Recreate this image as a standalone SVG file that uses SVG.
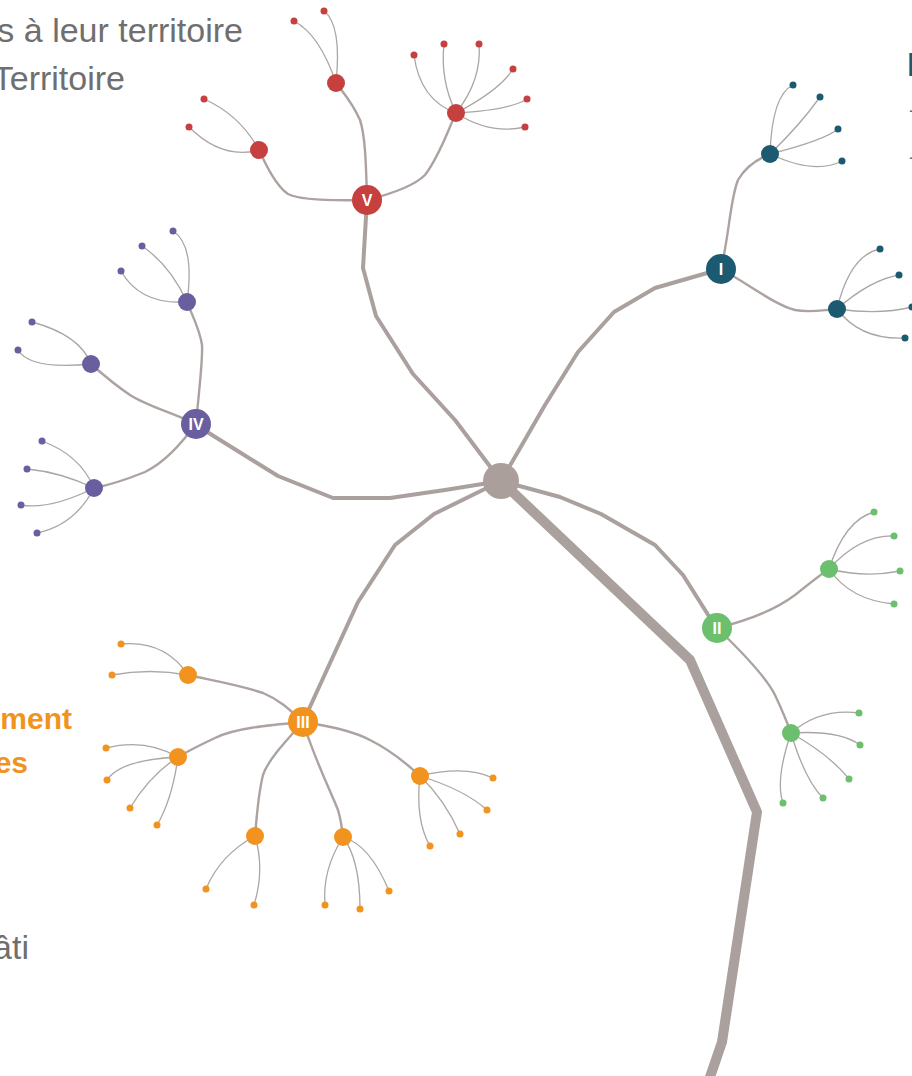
<svg xmlns="http://www.w3.org/2000/svg" width="912" height="1076" viewBox="0 0 912 1076">
<style>
.bg{fill:#ffffff}
.t{font-family:"Liberation Sans",Arial,sans-serif}
.gray{fill:#6f6f6f;font-size:34px}
.org{fill:#f0941e;font-size:30px;font-weight:bold}
.lbl{fill:#ffffff;font-size:16px;font-weight:bold;text-anchor:middle}
.l1{fill:none;stroke:#aaa09d;stroke-width:4;stroke-linejoin:round;stroke-linecap:round}
.l0{fill:none;stroke:#aaa09d;stroke-width:10;stroke-linejoin:round}
.l2{fill:none;stroke:#aca3a0;stroke-width:2.4;stroke-linecap:round}
.l3{fill:none;stroke:#aca5a3;stroke-width:1.3;stroke-linecap:round}
.root{fill:#ab9f9c}
.red{fill:#c5403e}
.teal{fill:#1b5a70}
.pur{fill:#695f9f}
.grn{fill:#6bbf6d}
.ora{fill:#f1931e}
</style>
<rect class="bg" x="0" y="0" width="912" height="1076"/>

<g id="texts" class="t">
<text class="gray" x="243" y="42" text-anchor="end">s à leur territoire</text>
<text class="gray" x="125" y="90" text-anchor="end">Territoire</text>
<text class="org" x="72" y="729" text-anchor="end">ment</text>
<text class="org" x="28" y="773" text-anchor="end">es</text>
<text class="gray" x="29" y="959" text-anchor="end">âti</text>
<text x="907" y="76" style="fill:#1b5a70;font-size:34px;font-weight:bold">D</text>
<text x="909" y="117" style="fill:#6f6f6f;font-size:20px">-</text>
<text x="909" y="164" style="fill:#6f6f6f;font-size:20px">-</text>
</g>

<g id="connectors">
<path class="l0" d="M501,481 L690,660 L757,812 L722,1042 L709,1080"/>
<path class="l1" d="M501,481 L545,405 L578,352 L614,312 L655,288 L721,269"/>
<path class="l1" d="M501,481 L455,420 L413,374 L376,316 L363,268 L367,200"/>
<path class="l1" d="M501,481 L445,490 L390,498 L333,498 L278,476 L196,425"/>
<path class="l1" d="M501,481 L434,514 L395,545 L358,602 L303,722"/>
<path class="l1" d="M501,481 L560,497 L601,514 L655,545 L683,575 L717,629"/>

<path class="l2" d="M367,200 C330,201 300,200 288,194 C276,186 266,165 259,150"/>
<path class="l2" d="M367,200 C366,160 365,135 360,120 C352,102 345,95 336,83"/>
<path class="l2" d="M367,200 C395,193 415,185 425,175 C440,155 448,130 456,113"/>
<path class="l2" d="M721,269 C730,230 730,200 738,180 C745,168 755,160 770,154"/>
<path class="l2" d="M721,269 C750,285 775,305 795,310 C810,313 822,310 837,309"/>
<path class="l2" d="M196,424 C199,390 203,360 202,345 C200,330 192,315 187,302"/>
<path class="l2" d="M196,424 C170,412 145,405 130,395 C115,385 100,372 91,364"/>
<path class="l2" d="M196,424 C180,445 165,462 145,472 C125,480 110,485 94,488"/>
<path class="l2" d="M717,628 C750,620 775,610 795,595 C810,583 820,575 829,569"/>
<path class="l2" d="M717,628 C740,650 765,675 775,695 C783,712 787,722 791,733"/>
<path class="l2" d="M303,722 C290,710 280,700 263,693 C240,685 210,680 188,675"/>
<path class="l2" d="M303,722 C270,725 235,728 215,738 C200,745 190,750 178,757"/>
<path class="l2" d="M303,722 C285,742 268,760 263,775 C258,795 257,815 255,836"/>
<path class="l2" d="M303,722 C315,760 330,790 338,810 C341,820 342,828 343,837"/>
<path class="l2" d="M303,722 C330,726 355,732 370,740 C390,750 405,762 420,776"/>

<path class="l3" d="M259,150 Q240,115 204,99"/>
<path class="l3" d="M259,150 Q222,160 189,127"/>
<path class="l3" d="M336,83 Q320,35 294,21"/>
<path class="l3" d="M336,83 Q342,25 324,11"/>
<path class="l3" d="M456,113 Q420,100 414,55"/>
<path class="l3" d="M456,113 Q440,80 444,44"/>
<path class="l3" d="M456,113 Q482,80 479,44"/>
<path class="l3" d="M456,113 Q500,90 513,69"/>
<path class="l3" d="M456,113 Q510,110 527,99"/>
<path class="l3" d="M456,113 Q490,135 525,127"/>

<path class="l3" d="M770,154 Q772,95 793,85"/>
<path class="l3" d="M770,154 Q800,125 820,97"/>
<path class="l3" d="M770,154 Q825,140 838,129"/>
<path class="l3" d="M770,154 Q815,175 842,161"/>
<path class="l3" d="M837,309 Q850,255 880,249"/>
<path class="l3" d="M837,309 Q870,280 899,275"/>
<path class="l3" d="M837,309 Q880,315 912,307"/>
<path class="l3" d="M837,309 Q860,340 905,338"/>

<path class="l3" d="M187,302 Q195,245 173,231"/>
<path class="l3" d="M187,302 Q170,265 142,246"/>
<path class="l3" d="M187,302 Q140,305 121,271"/>
<path class="l3" d="M91,364 Q80,335 32,322"/>
<path class="l3" d="M91,364 Q30,370 18,350"/>
<path class="l3" d="M94,488 Q80,455 42,441"/>
<path class="l3" d="M94,488 Q60,472 27,469"/>
<path class="l3" d="M94,488 Q50,510 21,505"/>
<path class="l3" d="M94,488 Q75,525 37,533"/>

<path class="l3" d="M829,569 Q845,520 874,512"/>
<path class="l3" d="M829,569 Q860,535 894,536"/>
<path class="l3" d="M829,569 Q865,578 900,571"/>
<path class="l3" d="M829,569 Q850,600 894,604"/>
<path class="l3" d="M791,733 Q820,708 859,713"/>
<path class="l3" d="M791,733 Q840,730 860,745"/>
<path class="l3" d="M791,733 Q830,755 849,779"/>
<path class="l3" d="M791,733 Q805,780 823,798"/>
<path class="l3" d="M791,733 Q775,780 783,803"/>

<path class="l3" d="M188,675 Q165,640 121,644"/>
<path class="l3" d="M188,675 Q150,668 112,675"/>
<path class="l3" d="M178,757 Q145,738 106,748"/>
<path class="l3" d="M178,757 Q120,760 107,780"/>
<path class="l3" d="M178,757 Q150,775 130,808"/>
<path class="l3" d="M178,757 Q172,800 157,825"/>
<path class="l3" d="M255,836 Q220,855 206,889"/>
<path class="l3" d="M255,836 Q265,870 254,905"/>
<path class="l3" d="M343,837 Q322,870 325,905"/>
<path class="l3" d="M343,837 Q360,860 360,909"/>
<path class="l3" d="M343,837 Q370,845 389,891"/>
<path class="l3" d="M420,776 Q465,765 493,778"/>
<path class="l3" d="M420,776 Q465,790 487,810"/>
<path class="l3" d="M420,776 Q445,800 460,834"/>
<path class="l3" d="M420,776 Q415,820 430,846"/>
</g>

<g id="root"><circle class="root" cx="501" cy="481" r="18"/></g>

<g id="nodeI"><circle class="teal" cx="721" cy="269" r="15"/><text class="t lbl" x="721" y="275">I</text></g>
<g id="nodeII"><circle class="grn" cx="717" cy="628" r="15"/><text class="t lbl" x="717" y="634">II</text></g>
<g id="nodeIII"><circle class="ora" cx="303" cy="722" r="15"/><text class="t lbl" x="303" y="728">III</text></g>
<g id="nodeIV"><circle class="pur" cx="196" cy="424" r="15"/><text class="t lbl" x="196" y="430">IV</text></g>
<g id="nodeV"><circle class="red" cx="367" cy="200" r="15"/><text class="t lbl" x="367" y="206">V</text></g>

<g id="V1"><circle class="red" cx="259" cy="150" r="9"/></g>
<g id="V2"><circle class="red" cx="336" cy="83" r="9"/></g>
<g id="V3"><circle class="red" cx="456" cy="113" r="9"/></g>
<g id="I1"><circle class="teal" cx="770" cy="154" r="9"/></g>
<g id="I2"><circle class="teal" cx="837" cy="309" r="9"/></g>
<g id="IV1"><circle class="pur" cx="187" cy="302" r="9"/></g>
<g id="IV2"><circle class="pur" cx="91" cy="364" r="9"/></g>
<g id="IV3"><circle class="pur" cx="94" cy="488" r="9"/></g>
<g id="II1"><circle class="grn" cx="829" cy="569" r="9"/></g>
<g id="II2"><circle class="grn" cx="791" cy="733" r="9"/></g>
<g id="III1"><circle class="ora" cx="188" cy="675" r="9"/></g>
<g id="III2"><circle class="ora" cx="178" cy="757" r="9"/></g>
<g id="III3"><circle class="ora" cx="255" cy="836" r="9"/></g>
<g id="III4"><circle class="ora" cx="343" cy="837" r="9"/></g>
<g id="III5"><circle class="ora" cx="420" cy="776" r="9"/></g>

<g id="V1a"><circle class="red" cx="204" cy="99" r="3.5"/></g>
<g id="V1b"><circle class="red" cx="189" cy="127" r="3.5"/></g>
<g id="V2a"><circle class="red" cx="294" cy="21" r="3.5"/></g>
<g id="V2b"><circle class="red" cx="324" cy="11" r="3.5"/></g>
<g id="V3a"><circle class="red" cx="414" cy="55" r="3.5"/></g>
<g id="V3b"><circle class="red" cx="444" cy="44" r="3.5"/></g>
<g id="V3c"><circle class="red" cx="479" cy="44" r="3.5"/></g>
<g id="V3d"><circle class="red" cx="513" cy="69" r="3.5"/></g>
<g id="V3e"><circle class="red" cx="527" cy="99" r="3.5"/></g>
<g id="V3f"><circle class="red" cx="525" cy="127" r="3.5"/></g>

<g id="I1a"><circle class="teal" cx="793" cy="85" r="3.5"/></g>
<g id="I1b"><circle class="teal" cx="820" cy="97" r="3.5"/></g>
<g id="I1c"><circle class="teal" cx="838" cy="129" r="3.5"/></g>
<g id="I1d"><circle class="teal" cx="842" cy="161" r="3.5"/></g>
<g id="I2a"><circle class="teal" cx="880" cy="249" r="3.5"/></g>
<g id="I2b"><circle class="teal" cx="899" cy="275" r="3.5"/></g>
<g id="I2c"><circle class="teal" cx="912" cy="307" r="3.5"/></g>
<g id="I2d"><circle class="teal" cx="905" cy="338" r="3.5"/></g>

<g id="IV1a"><circle class="pur" cx="173" cy="231" r="3.5"/></g>
<g id="IV1b"><circle class="pur" cx="142" cy="246" r="3.5"/></g>
<g id="IV1c"><circle class="pur" cx="121" cy="271" r="3.5"/></g>
<g id="IV2a"><circle class="pur" cx="32" cy="322" r="3.5"/></g>
<g id="IV2b"><circle class="pur" cx="18" cy="350" r="3.5"/></g>
<g id="IV3a"><circle class="pur" cx="42" cy="441" r="3.5"/></g>
<g id="IV3b"><circle class="pur" cx="27" cy="469" r="3.5"/></g>
<g id="IV3c"><circle class="pur" cx="21" cy="505" r="3.5"/></g>
<g id="IV3d"><circle class="pur" cx="37" cy="533" r="3.5"/></g>

<g id="II1a"><circle class="grn" cx="874" cy="512" r="3.5"/></g>
<g id="II1b"><circle class="grn" cx="894" cy="536" r="3.5"/></g>
<g id="II1c"><circle class="grn" cx="900" cy="571" r="3.5"/></g>
<g id="II1d"><circle class="grn" cx="894" cy="604" r="3.5"/></g>
<g id="II2a"><circle class="grn" cx="859" cy="713" r="3.5"/></g>
<g id="II2b"><circle class="grn" cx="860" cy="745" r="3.5"/></g>
<g id="II2c"><circle class="grn" cx="849" cy="779" r="3.5"/></g>
<g id="II2d"><circle class="grn" cx="823" cy="798" r="3.5"/></g>
<g id="II2e"><circle class="grn" cx="783" cy="803" r="3.5"/></g>

<g id="III1a"><circle class="ora" cx="121" cy="644" r="3.5"/></g>
<g id="III1b"><circle class="ora" cx="112" cy="675" r="3.5"/></g>
<g id="III2a"><circle class="ora" cx="106" cy="748" r="3.5"/></g>
<g id="III2b"><circle class="ora" cx="107" cy="780" r="3.5"/></g>
<g id="III2c"><circle class="ora" cx="130" cy="808" r="3.5"/></g>
<g id="III2d"><circle class="ora" cx="157" cy="825" r="3.5"/></g>
<g id="III3a"><circle class="ora" cx="206" cy="889" r="3.5"/></g>
<g id="III3b"><circle class="ora" cx="254" cy="905" r="3.5"/></g>
<g id="III4a"><circle class="ora" cx="325" cy="905" r="3.5"/></g>
<g id="III4b"><circle class="ora" cx="360" cy="909" r="3.5"/></g>
<g id="III4c"><circle class="ora" cx="389" cy="891" r="3.5"/></g>
<g id="III5a"><circle class="ora" cx="493" cy="778" r="3.5"/></g>
<g id="III5b"><circle class="ora" cx="487" cy="810" r="3.5"/></g>
<g id="III5c"><circle class="ora" cx="460" cy="834" r="3.5"/></g>
<g id="III5d"><circle class="ora" cx="430" cy="846" r="3.5"/></g>
</svg>
